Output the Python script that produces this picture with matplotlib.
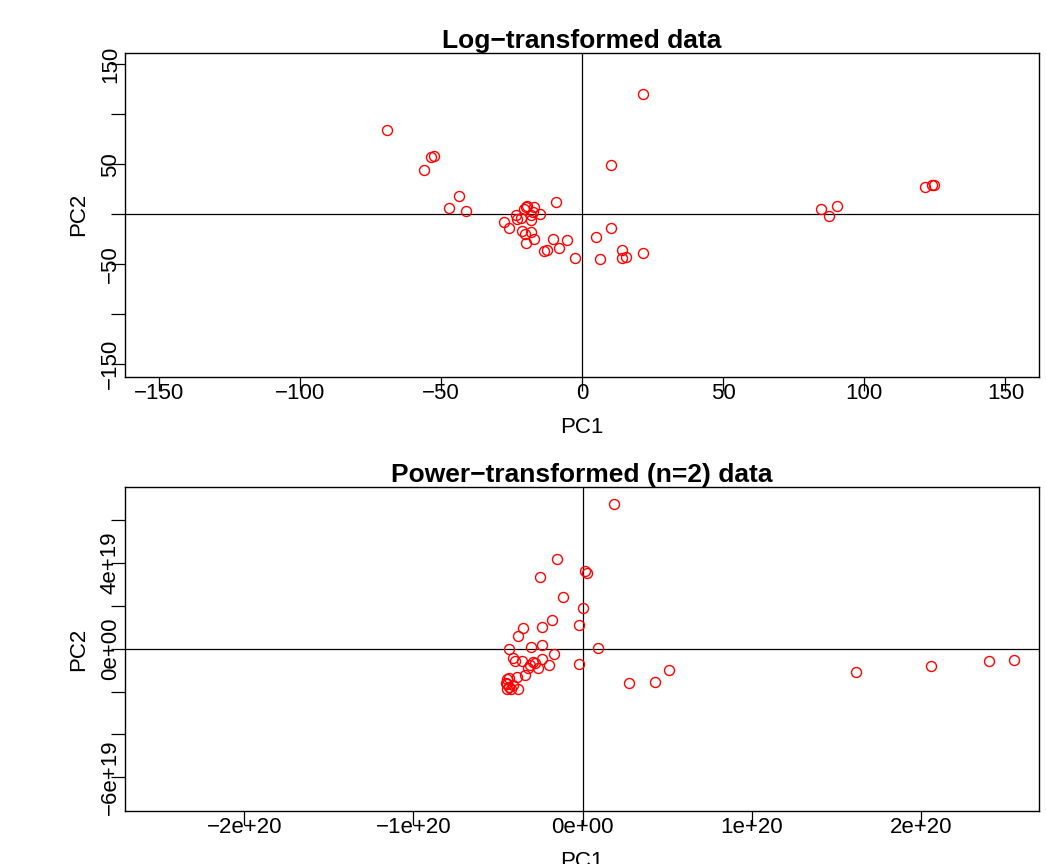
import matplotlib
matplotlib.use("Agg")
import matplotlib.pyplot as plt

plt.rcParams['font.family'] = ['Liberation Sans', 'DejaVu Sans']

# Log-transformed PCA scores (PC1, PC2)
log_pc1 = [-69.3, -53.5, -52.6, -55.9, -43.6, -47.1, -41.1, -9.4, -2.5, 10.4,
           21.5, 10.4, 5.0, 6.5, 14.0, 14.2, 15.4, 21.5, -5.2, -10.3,
           -8.2, 84.7, 87.3, 90.2, 121.5, 124.0, 124.7, -27.6, -26.0, -23.5,
           -23.0, -21.6, -20.7, -19.5, -19.9, -17.2, -18.1, -17.5, -14.9, -18.2,
           -21.3, -20.2, -18.3, -17.1, -19.9, -13.6, -12.6]
log_pc2 = [84.3, 57.6, 58.6, 44.0, 18.6, 6.6, 3.6, 12.0, -43.8, 49.3,
           120.3, -14.0, -23.0, -44.7, -35.5, -44.0, -42.4, -38.7, -26.2, -24.7,
           -33.7, 5.3, -1.7, 8.6, 27.6, 29.3, 28.8, -7.4, -13.4, -1.0,
           -4.7, -4.0, 5.3, 8.6, 7.0, 7.6, -0.4, 2.6, 0.6, -5.7,
           -16.4, -19.7, -17.7, -24.7, -29.0, -36.7, -35.4]

# Power-transformed (n=2) PCA scores, PC1 in 1e20 and PC2 in 1e19
pow_pc1 = [-0.154, -0.252, 0.015, 0.024, -0.115, 0.004, -0.180, -0.022, -0.242, -0.355,
           -0.384, -0.239, -0.304, -0.434, 0.090, -0.171, -0.410, -0.400, -0.360, -0.280,
           -0.239, -0.197, -0.311, -0.262, -0.321, -0.020, -0.343, -0.390, -0.449, -0.434,
           -0.453, -0.449, -0.426, -0.381, -0.410, -0.436, 0.274, 0.185, 0.429, 0.508,
           1.615, 2.057, 2.400, 2.547, -0.295, -0.445]
pow_pc2 = [4.18, 3.36, 3.64, 3.51, 2.42, 1.91, 1.34, 1.10, 1.01, 0.95,
           0.61, 0.19, 0.09, -0.01, 0.05, -0.23, -0.45, -0.56, -0.56, -0.68,
           -0.49, -0.77, -0.76, -0.89, -0.91, -0.71, -1.23, -1.31, -1.43, -1.38,
           -1.59, -1.88, -1.88, -1.88, -1.71, -1.77, -1.59, 6.76, -1.55, -0.99,
           -1.07, -0.79, -0.56, -0.54, -0.60, -1.65]
X_UNIT = 1e20
Y_UNIT = 1e19

log_xticks = [-150, -100, -50, 0, 50, 100, 150]
log_xlabels = ['\u2212150', '\u2212100', '\u221250', '0', '50', '100', '150']
log_yticks = [-150, -100, -50, 0, 50, 100, 150]
log_ylabels = ['\u2212150', '', '\u221250', '', '50', '', '150']

pow_xticks = [-2e20, -1e20, 0, 1e20, 2e20]
pow_xlabels = ['\u22122e+20', '\u22121e+20', '0e+00', '1e+20', '2e+20']
pow_yticks = [-6e19, -4e19, -2e19, 0, 2e19, 4e19, 6e19]
pow_ylabels = ['\u22126e+19', '', '', '0e+00', '', '4e+19', '']

fig = plt.figure(figsize=(10.46, 8.64), dpi=100)
W, H = 1046, 864


def make_axes(top_px, bottom_px):
    left, right = 125, 1039.3
    return fig.add_axes([left / W, 1 - bottom_px / H, (right - left) / W, (bottom_px - top_px) / H])


def style(ax, title, xticks, xlabels, yticks, ylabels):
    ax.axhline(0, color='black', lw=0.9, zorder=1)
    ax.axvline(0, color='black', lw=0.9, zorder=1)
    for sp in ax.spines.values():
        sp.set_linewidth(1.0)
    ax.set_xticks(xticks)
    ax.set_xticklabels(xlabels)
    ax.set_yticks(yticks)
    ax.set_yticklabels(ylabels, rotation=90, va='center')
    ax.tick_params(axis='both', direction='out', length=10, width=0.9, labelsize=16)
    ax.tick_params(axis='x', pad=-5.5)
    ax.tick_params(axis='y', pad=-7.0)
    ax.set_title(title, fontsize=19, fontweight='bold', pad=3.2)
    ax.set_xlabel('PC1', fontsize=16)
    ax.set_ylabel('PC2', fontsize=16, va='center')
    ax.xaxis.set_label_coords(0.5, -0.124)
    ax.yaxis.set_label_coords(-0.0505, 0.5)


ax1 = make_axes(52.7, 376.7)
ax1.plot(log_pc1, log_pc2, linestyle='none', marker='o', markersize=7.2,
         markerfacecolor='none', markeredgecolor='#FF0000', markeredgewidth=1.0, zorder=3)
ax1.set_xlim(-162, 162)
ax1.set_ylim(-162.5, 161.5)
style(ax1, 'Log\u2212transformed data', log_xticks, log_xlabels, log_yticks, log_ylabels)

ax2 = make_axes(487, 811)
ax2.plot([v * X_UNIT for v in pow_pc1], [v * Y_UNIT for v in pow_pc2], linestyle='none',
         marker='o', markersize=7.2, markerfacecolor='none', markeredgecolor='#FF0000',
         markeredgewidth=1.0, zorder=3)
ax2.set_xlim(-2.705e20, 2.699e20)
ax2.set_ylim(-7.57e19, 7.54e19)
style(ax2, 'Power\u2212transformed (n=2) data', pow_xticks, pow_xlabels, pow_yticks, pow_ylabels)

fig.savefig('out.png', dpi=100)
